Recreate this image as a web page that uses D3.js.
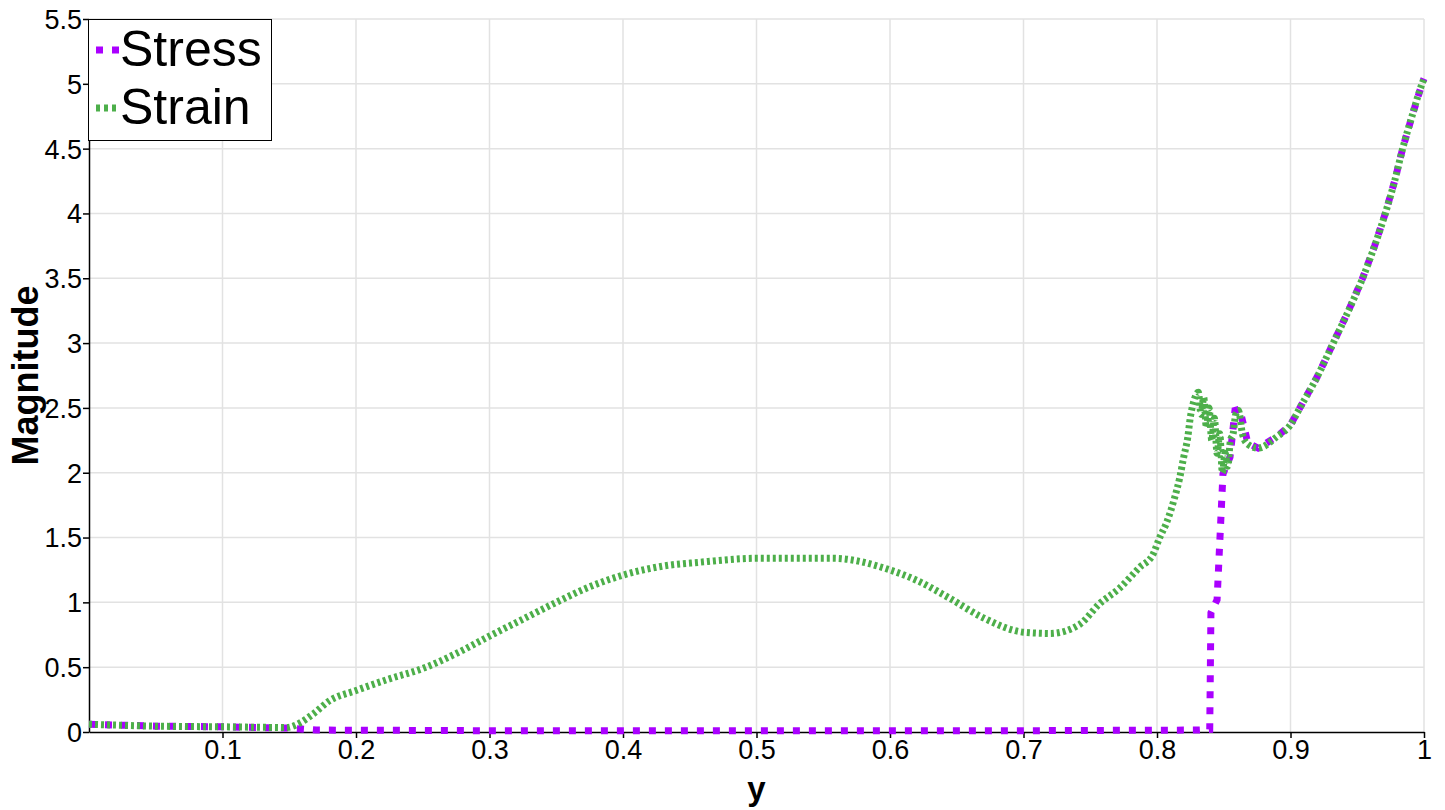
<!DOCTYPE html>
<html>
<head>
<meta charset="utf-8">
<script src="https://cdn.jsdelivr.net/npm/d3@7"></script>
<style>
  body { margin: 0; background: #fff; }
  text { font-family: "Liberation Sans", Arial, sans-serif; }
</style>
</head>
<body>
<div id="root"></div>
<script>
// Data
const stressX = [0, 0.05, 0.1, 0.15, 0.17, 0.3, 0.5, 0.7, 0.83, 0.8395, 0.8404, 0.845, 0.8494, 0.8547, 0.8584, 0.862, 0.868, 0.8757, 0.89, 0.9, 0.907, 0.92, 0.932, 0.943, 0.954, 0.963, 0.971, 0.978, 0.984, 0.991, 0.9985, 1.0];
const stressY = [0.06, 0.045, 0.04, 0.03, 0.015, 0.01, 0.01, 0.01, 0.015, 0.02, 0.92, 1.02, 1.99, 2.12, 2.48, 2.49, 2.23, 2.19, 2.28, 2.37, 2.5, 2.74, 3.0, 3.24, 3.5, 3.75, 4.0, 4.25, 4.5, 4.75, 5.0, 5.04];

const strainX = [0, 0.05, 0.1, 0.148, 0.158, 0.168, 0.18, 0.2, 0.225, 0.25, 0.276, 0.3, 0.325, 0.35, 0.375, 0.4, 0.43, 0.458, 0.5, 0.557, 0.6, 0.62, 0.645, 0.67, 0.7, 0.72, 0.742, 0.757, 0.772, 0.787, 0.797, 0.802, 0.807, 0.813, 0.817, 0.82, 0.823, 0.825, 0.827, 0.831, 0.833, 0.835, 0.837, 0.839, 0.841, 0.843, 0.845, 0.847, 0.849, 0.851, 0.853, 0.855, 0.857, 0.859, 0.861, 0.864, 0.868, 0.8757, 0.89, 0.9, 0.907, 0.92, 0.932, 0.943, 0.954, 0.963, 0.971, 0.978, 0.984, 0.991, 0.9985, 1.0];
const strainY = [0.06, 0.045, 0.04, 0.035, 0.07, 0.14, 0.24, 0.32, 0.41, 0.49, 0.61, 0.74, 0.87, 1.0, 1.12, 1.21, 1.28, 1.31, 1.34, 1.34, 1.25, 1.17, 1.03, 0.88, 0.77, 0.76, 0.83, 0.99, 1.11, 1.27, 1.37, 1.5, 1.61, 1.8, 1.96, 2.12, 2.27, 2.43, 2.53, 2.62, 2.45, 2.58, 2.35, 2.5, 2.25, 2.42, 2.15, 2.3, 2.0, 2.15, 2.05, 2.25, 2.3, 2.45, 2.48, 2.3, 2.22, 2.19, 2.28, 2.37, 2.5, 2.74, 3.0, 3.24, 3.5, 3.75, 4.0, 4.25, 4.5, 4.75, 5.0, 5.04];

const xTicks = [0.1, 0.2, 0.3, 0.4, 0.5, 0.6, 0.7, 0.8, 0.9, 1];
const yTicks = [0, 0.5, 1, 1.5, 2, 2.5, 3, 3.5, 4, 4.5, 5, 5.5];

const seriesNames = ["Stress", "Strain"];
const seriesColors = ["#aa00ff", "#4daf4a"];

// Size of the chart
const width = 1445;
const height = 810;
const margin = { top: 19, right: 21, bottom: 78, left: 89 };

const svg = d3
  .select("#root")
  .append("svg")
  .attr("width", width)
  .attr("height", height);

// Scales
const xScale = d3
  .scaleLinear()
  .domain([0, 1])
  .range([margin.left, width - margin.right]);

const yScale = d3
  .scaleLinear()
  .domain([0, 5.5])
  .range([height - margin.bottom, margin.top]);

// Grid lines
svg
  .append("g")
  .selectAll("line")
  .data(xTicks)
  .enter()
  .append("line")
  .attr("x1", d => xScale(d))
  .attr("x2", d => xScale(d))
  .attr("y1", yScale(0))
  .attr("y2", yScale(5.5))
  .attr("stroke", "#e2e2e2")
  .attr("stroke-width", 1.5);

svg
  .append("g")
  .selectAll("line")
  .data(yTicks.slice(1))
  .enter()
  .append("line")
  .attr("x1", xScale(0))
  .attr("x2", xScale(1))
  .attr("y1", d => yScale(d))
  .attr("y2", d => yScale(d))
  .attr("stroke", "#e2e2e2")
  .attr("stroke-width", 1.5);

// Axes
const xAxis = d3.axisBottom(xScale).tickValues(xTicks).tickSize(6).tickSizeOuter(0).tickFormat(d => String(d));
const yAxis = d3.axisLeft(yScale).tickValues(yTicks).tickSize(6).tickSizeOuter(0).tickFormat(d => String(d));

const gx = svg
  .append("g")
  .attr("transform", "translate(0," + yScale(0) + ")")
  .call(xAxis);

const gy = svg
  .append("g")
  .attr("transform", "translate(" + xScale(0) + ",0)")
  .call(yAxis);

[gx, gy].forEach(g => {
  g.select(".domain").attr("stroke", "#000").attr("stroke-width", 1.5);
  g.selectAll(".tick line").attr("stroke", "#000").attr("stroke-width", 1.5);
  g.selectAll(".tick text")
    .attr("fill", "#000")
    .style("font-family", "'Liberation Sans', Arial, sans-serif")
    .style("font-size", "27px");
});
gx.selectAll(".tick text").attr("y", 8).attr("dy", "0.71em");
gy.selectAll(".tick text").attr("x", -7).attr("dy", "0.35em");

// Axis titles
svg
  .append("text")
  .attr("x", xScale(0.5))
  .attr("y", 800)
  .attr("text-anchor", "middle")
  .style("font-size", "33px")
  .style("font-weight", "bold")
  .text("y");

svg
  .append("text")
  .attr("transform", "translate(38," + yScale(2.75) + ") rotate(-90)")
  .attr("text-anchor", "middle")
  .style("font-size", "36px")
  .style("font-weight", "bold")
  .text("Magnitude");

// Lines
const stressLine = d3
  .line()
  .x(d => xScale(d[0]))
  .y(d => yScale(d[1]));

const strainLine = d3
  .line()
  .curve(d3.curveMonotoneX)
  .x(d => xScale(d[0]))
  .y(d => yScale(d[1]));

const stressData = stressX.map((x, i) => [x, stressY[i]]);
const strainData = strainX.map((x, i) => [x, strainY[i]]);

svg
  .append("path")
  .datum(stressData)
  .attr("fill", "none")
  .attr("stroke", seriesColors[0])
  .attr("stroke-width", 7)
  .attr("stroke-dasharray", "7,9")
  .attr("d", stressLine);

svg
  .append("path")
  .datum(strainData)
  .attr("fill", "none")
  .attr("stroke", seriesColors[1])
  .attr("stroke-width", 7)
  .attr("stroke-dasharray", "3,3")
  .attr("d", strainLine);

// Legend
const legend = svg.append("g");

legend
  .append("rect")
  .attr("x", 88.5)
  .attr("y", 19.5)
  .attr("width", 183)
  .attr("height", 121)
  .attr("fill", "#fff")
  .attr("stroke", "#000")
  .attr("stroke-width", 1);

const legendDash = ["7,9", "4,4"];
const legendWidth = [7, 7];

seriesNames.forEach((name, i) => {
  const cy = 50 + i * 58;
  legend
    .append("line")
    .attr("x1", 96)
    .attr("x2", 119)
    .attr("y1", cy)
    .attr("y2", cy)
    .attr("stroke", seriesColors[i])
    .attr("stroke-width", legendWidth[i])
    .attr("stroke-dasharray", legendDash[i]);
  legend
    .append("text")
    .attr("x", 120)
    .attr("y", cy + 16)
    .style("font-size", "50px")
    .text(name);
});
</script>
</body>
</html>
